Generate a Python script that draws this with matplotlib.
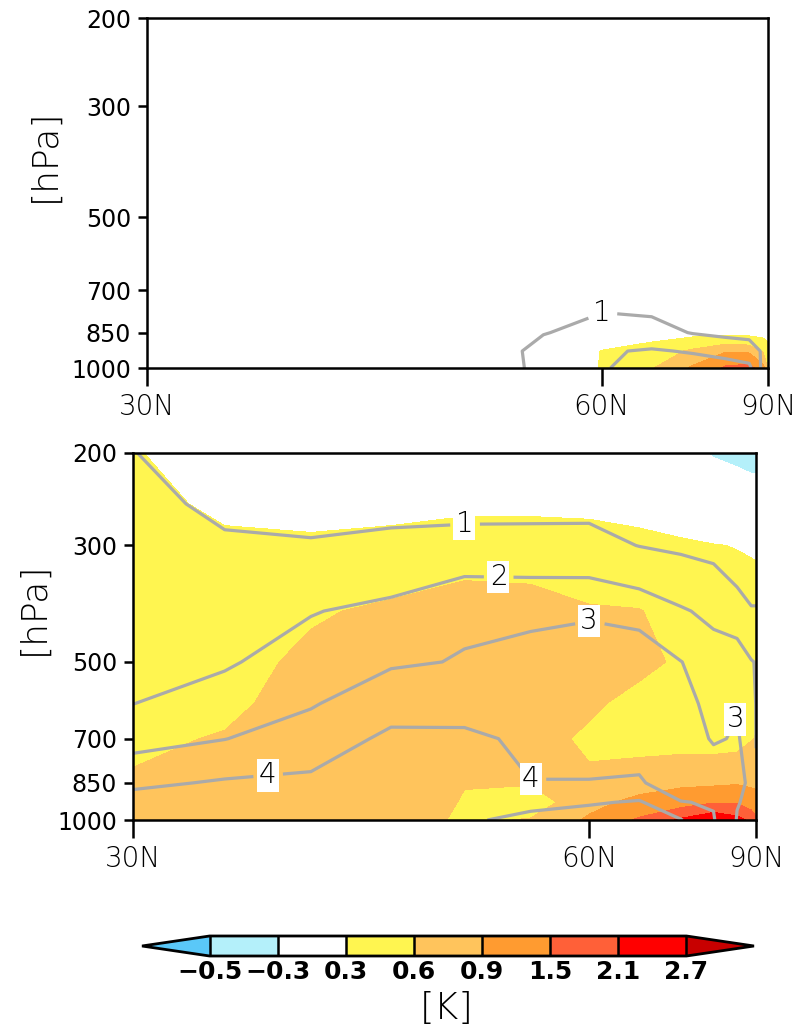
import numpy as np
import matplotlib
matplotlib.use("Agg")
import matplotlib.pyplot as plt
from matplotlib.ticker import FixedLocator, NullLocator

plt.rcParams["font.family"] = ["DejaVu Sans"]

# ---- grid -------------------------------------------------------------
lats = np.array([30, 35, 40, 45, 50, 55, 60, 65, 70, 75, 80, 85, 90])
plev = np.array([1000, 925, 850, 700, 600, 500, 400, 300, 250, 200])

# ---- upper panel (rows: 1000 -> 200 hPa, columns: 30N -> 90N) ---------
upper_shade = np.array([
    [0.00, 0.00, 0.00, 0.00, 0.00, 0.00, 0.32, 0.58, 0.95, 1.60, 1.70, 1.00, 0.50],
    [0.00, 0.00, 0.00, 0.00, 0.00, 0.00, 0.31, 0.45, 0.65, 0.85, 0.80, 0.55, 0.40],
    [0.00, 0.00, 0.00, 0.00, 0.00, 0.00, 0.10, 0.15, 0.20, 0.20, 0.20, 0.20, 0.20],
    [0.00, 0.00, 0.00, 0.00, 0.00, 0.00, 0.00, 0.00, 0.00, 0.00, 0.00, 0.00, 0.00],
    [0.00, 0.00, 0.00, 0.00, 0.00, 0.00, 0.00, 0.00, 0.00, 0.00, 0.00, 0.00, 0.00],
    [0.00, 0.00, 0.00, 0.00, 0.00, 0.00, 0.00, 0.00, 0.00, 0.00, 0.00, 0.00, 0.00],
    [0.00, 0.00, 0.00, 0.00, 0.00, 0.00, 0.00, 0.00, 0.00, 0.00, 0.00, 0.00, 0.00],
    [0.00, 0.00, 0.00, 0.00, 0.00, 0.00, 0.00, 0.00, 0.00, 0.00, 0.00, 0.00, 0.00],
    [0.00, 0.00, 0.00, 0.00, 0.00, 0.00, 0.00, 0.00, 0.00, 0.00, 0.00, 0.00, 0.00],
    [0.00, 0.00, 0.00, 0.00, 0.00, 0.00, 0.00, 0.00, 0.00, 0.00, 0.00, 0.00, 0.00],
])
upper_lines = np.array([
    [0.00, 0.00, 0.00, 0.10, 0.30, 1.30, 1.90, 2.50, 2.60, 2.50, 2.20, 0.60, 0.30],
    [0.00, 0.00, 0.00, 0.10, 0.20, 1.40, 1.90, 2.10, 1.90, 1.60, 1.50, 0.80, 0.50],
    [0.00, 0.00, 0.00, 0.05, 0.10, 0.95, 1.40, 1.30, 0.95, 0.80, 0.70, 0.50, 0.30],
    [0.00, 0.00, 0.00, 0.00, 0.05, 0.40, 0.60, 0.55, 0.40, 0.30, 0.25, 0.20, 0.10],
    [0.00, 0.00, 0.00, 0.00, 0.00, 0.00, 0.00, 0.00, 0.00, 0.00, 0.00, 0.00, 0.00],
    [0.00, 0.00, 0.00, 0.00, 0.00, 0.00, 0.00, 0.00, 0.00, 0.00, 0.00, 0.00, 0.00],
    [0.00, 0.00, 0.00, 0.00, 0.00, 0.00, 0.00, 0.00, 0.00, 0.00, 0.00, 0.00, 0.00],
    [0.00, 0.00, 0.00, 0.00, 0.00, 0.00, 0.00, 0.00, 0.00, 0.00, 0.00, 0.00, 0.00],
    [0.00, 0.00, 0.00, 0.00, 0.00, 0.00, 0.00, 0.00, 0.00, 0.00, 0.00, 0.00, 0.00],
    [0.00, 0.00, 0.00, 0.00, 0.00, 0.00, 0.00, 0.00, 0.00, 0.00, 0.00, 0.00, 0.00],
])

# ---- lower panel -------------------------------------------------------
lower_shade = np.array([
    [0.70, 0.72, 0.75, 0.75, 0.55, 0.62, 0.95, 1.60, 2.20, 2.60, 2.30, 1.90, 1.60],
    [0.68, 0.70, 0.75, 0.78, 0.58, 0.45, 0.80, 1.00, 1.20, 1.45, 1.45, 1.20, 1.10],
    [0.63, 0.68, 0.75, 0.80, 0.61, 0.62, 0.65, 0.75, 0.80, 0.80, 0.85, 0.80, 0.80],
    [0.55, 0.62, 0.75, 0.78, 0.76, 0.70, 0.55, 0.50, 0.50, 0.50, 0.50, 0.59, 0.62],
    [0.55, 0.54, 0.72, 0.75, 0.78, 0.72, 0.65, 0.50, 0.55, 0.50, 0.50, 0.50, 0.50],
    [0.52, 0.50, 0.66, 0.72, 0.75, 0.75, 0.70, 0.68, 0.55, 0.50, 0.50, 0.50, 0.50],
    [0.50, 0.48, 0.57, 0.65, 0.70, 0.68, 0.62, 0.61, 0.50, 0.45, 0.45, 0.45, 0.45],
    [0.48, 0.40, 0.35, 0.40, 0.50, 0.50, 0.45, 0.38, 0.33, 0.31, 0.29, 0.27, 0.26],
    [0.45, 0.20, 0.20, 0.20, 0.22, 0.22, 0.22, 0.20, 0.18, 0.05, 0.00, -0.05, -0.05],
    [0.32, 0.15, 0.10, 0.10, 0.10, 0.10, 0.12, 0.10, -0.20, -0.33, -0.40, -0.45, -0.45],
])
lower_lines = np.array([
    [4.80, 4.90, 4.80, 4.90, 4.90, 5.20, 5.50, 5.60, 5.05, 4.05, 2.95, 2.90, 2.50],
    [4.40, 4.50, 4.50, 4.80, 4.50, 4.80, 4.90, 5.10, 4.02, 3.95, 3.04, 2.80, 2.30],
    [3.80, 4.11, 4.20, 4.60, 4.50, 4.02, 4.02, 4.05, 3.70, 3.70, 3.10, 2.90, 2.20],
    [2.64, 2.98, 3.47, 4.20, 4.20, 3.80, 3.80, 3.80, 3.50, 2.90, 3.10, 2.40, 1.95],
    [1.99, 2.43, 2.92, 3.62, 3.60, 3.50, 3.60, 3.80, 3.30, 2.70, 2.95, 2.30, 1.90],
    [1.83, 1.89, 2.47, 2.89, 3.05, 3.25, 3.45, 3.74, 3.02, 2.50, 2.67, 2.05, 1.90],
    [1.63, 1.54, 1.95, 2.27, 2.87, 2.85, 2.90, 2.60, 2.10, 1.75, 1.30, 1.05, 1.05],
    [1.37, 1.10, 1.05, 1.12, 1.32, 1.30, 1.25, 0.98, 0.85, 0.75, 0.55, 0.50, 0.50],
    [1.20, 0.85, 0.80, 0.85, 0.72, 0.75, 0.80, 0.65, 0.50, 0.40, 0.30, 0.25, 0.20],
    [1.02, 0.60, 0.55, 0.50, 0.50, 0.50, 0.55, 0.45, 0.30, 0.20, 0.10, 0.05, 0.00],
])

# ---- shading / contour settings ----------------------------------------
shade_bounds = [-0.5, -0.3, 0.3, 0.6, 0.9, 1.5, 2.1, 2.7]
shade_labels = ["\u22120.5", "\u22120.3", "0.3", "0.6", "0.9", "1.5", "2.1", "2.7"]
shade_colors = ["#5ac8f8", "#b4f0fa", "#ffffff", "#fff550", "#ffc45c",
                "#ff9b30", "#ff6038", "#ff0000", "#c80000"]
upper_line_levels = [1, 2]
lower_line_levels = [1, 2, 3, 4, 5]
upper_label_pos = [(60.0, 775)]
lower_label_pos = [(50.0, 274), (52.5, 337), (60.0, 418), (79.0, 640),
                   (37.5, 845), (55.0, 845)]

y_ticks = [200, 300, 500, 700, 850, 1000]
x_ticks = [30, 60, 90]
x_ticklabels = ["30N", "60N", "90N"]

LINE_GREY = "#aaaaaa"


def sin_fwd(x):
    return np.sin(np.deg2rad(np.clip(x, -90, 90)))


def sin_inv(y):
    return np.rad2deg(np.arcsin(np.clip(y, -1, 1)))


fig = plt.figure(figsize=(7.98, 10.24), dpi=100)
ax_top = fig.add_axes([147 / 798, 1 - 368 / 1024, 621 / 798, 350 / 1024])
ax_bot = fig.add_axes([133 / 798, 1 - 820 / 1024, 623 / 798, 367 / 1024])


def draw_panel(ax, shade, lines, line_levels, label_levels, label_pos):
    ax.set_xscale("function", functions=(sin_fwd, sin_inv))
    ax.set_yscale("log")
    cf = ax.contourf(lats, plev, shade, levels=shade_bounds,
                     colors=shade_colors, extend="both", zorder=1)
    cs = ax.contour(lats, plev, lines, levels=line_levels,
                    colors=LINE_GREY, linewidths=2.3, zorder=2)
    texts = ax.clabel(cs, levels=label_levels, manual=label_pos, inline=True,
                      inline_spacing=6, fmt="%d", fontsize=20)
    for t in texts:
        t.set_rotation(0)
        t.set_color("black")
        t.set_fontweight("light")
        t.set_bbox(dict(boxstyle="square,pad=0.08", fc="white", ec="none"))
        t.set_zorder(4)

    ax.set_xlim(30, 90)
    ax.set_ylim(1000, 200)
    ax.xaxis.set_major_locator(FixedLocator(x_ticks))
    ax.xaxis.set_minor_locator(NullLocator())
    ax.set_xticklabels(x_ticklabels, fontsize=20, fontweight="light")
    ax.yaxis.set_major_locator(FixedLocator(y_ticks))
    ax.yaxis.set_minor_locator(NullLocator())
    ax.set_yticklabels([str(v) for v in y_ticks], fontsize=17)
    ax.tick_params(axis="x", direction="out", length=13, width=1.8, pad=5)
    ax.tick_params(axis="y", direction="out", length=6.5, width=1.8, pad=5)
    for sp in ax.spines.values():
        sp.set_linewidth(1.8)
        sp.set_zorder(5)
    return cf


draw_panel(ax_top, upper_shade, upper_lines, upper_line_levels, [1],
           upper_label_pos)
cf = draw_panel(ax_bot, lower_shade, lower_lines, lower_line_levels,
                [1, 2, 3, 4], lower_label_pos)

fig.text(45 / 798, 1 - 155 / 1024, "[hPa]", rotation=90, ha="center",
         va="center", fontsize=26, fontweight="light")
fig.text(34 / 798, 1 - 608 / 1024, "[hPa]", rotation=90, ha="center",
         va="center", fontsize=26, fontweight="light")

# ---- colour bar ---------------------------------------------------------
cax = fig.add_axes([142 / 798, 1 - 956 / 1024, 612 / 798, 20 / 1024])
cb = fig.colorbar(cf, cax=cax, orientation="horizontal", ticks=shade_bounds,
                  extendfrac=0.1417, drawedges=True)
cb.outline.set_linewidth(2.0)
cb.dividers.set_color("black")
cb.dividers.set_linewidth(1.8)
cb.ax.set_xticklabels(shade_labels, fontsize=18, fontweight="bold")
cb.ax.tick_params(length=0, pad=3)
fig.text(447 / 798, 1 - 1008 / 1024, "[K]", ha="center", va="center",
         fontsize=27, fontweight="light")

fig.savefig("out.png", dpi=100)
